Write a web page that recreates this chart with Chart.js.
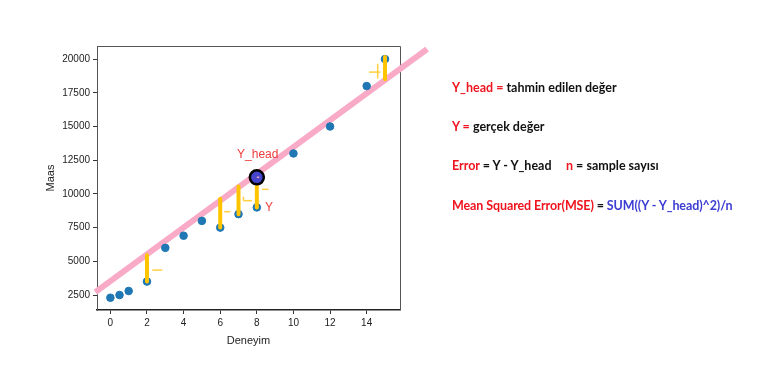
<!DOCTYPE html>
<html>
<head>
<meta charset="utf-8">
<script src="https://cdn.jsdelivr.net/npm/chart.js@4"></script>
<style>
body{margin:0;background:#fff;}
#wrap{position:relative;width:774px;height:366px;}
.note{position:absolute;font:bold 12.5px Lato, sans-serif;white-space:pre;line-height:15px;color:#111;}
.red{color:#f0141e;}
.blue{color:#3c3cd2;}
</style>
</head>
<body>
<div id="wrap">
<canvas id="mseChart" width="774" height="366"></canvas>
<div class="note" style="left:452px;top:80px"><span class="red">Y_head =</span> tahmin edilen değer</div>
<div class="note" style="left:452px;top:119px"><span class="red">Y =</span> gerçek değer</div>
<div class="note" style="left:452px;top:158px"><span class="red">Error</span> = Y - Y_head</div>
<div class="note" style="left:566px;top:158px"><span class="red">n</span> = sample sayısı</div>
<div class="note" style="left:452px;top:198px;letter-spacing:-0.1px"><span class="red">Mean Squared Error(MSE)</span> = <span class="blue">SUM((Y - Y_head)^2)/n</span></div>
</div>
<script>
// deneyim / maas scatter
var deneyim = [0, 0.5, 1, 2, 3, 4, 5, 6, 7, 8, 10, 12, 14, 15];
var maas = [2300, 2500, 2800, 3500, 6000, 6900, 8000, 7500, 8500, 9000, 13000, 15000, 18000, 20000];

// hand drawn regression line
var lineX = [-0.82, 17.3];
var lineY = [2720, 20740];

// marked prediction point
var yHeadX = [8];
var yHeadY = [11230];

// error bars (Y -> Y_head)
var errX = [2, 6, 7, 8, 15];
var errLow = [3500, 7500, 8500, 9000, 18500];
var errHigh = [5450, 9650, 10550, 11000, 20150];

// small "-" marks next to the bars
var dashStart = [2.29, 6.22, 7.27, 8.28, 14.13];
var dashEnd = [2.84, 6.55, 7.73, 8.64, 14.75];
var dashY = [4350, 8680, 9500, 10340, 19035];
var stubX = [7.27, 14.6];
var stubLow = [9500, 18550];
var stubHigh = [9800, 19650];

var xTicks = [0, 2, 4, 6, 8, 10, 12, 14];
var yTicks = [2500, 5000, 7500, 10000, 12500, 15000, 17500, 20000];

var yellow = '#ffc400';

var datasets = [];
datasets.push({
    data: lineX.map(function(x, i){ return {x: x, y: lineY[i]}; }),
    showLine: true, borderColor: 'rgb(248,170,198)', borderWidth: 6,
    pointRadius: 0, clip: false, order: 6
});
datasets.push({
    data: deneyim.map(function(x, i){ return {x: x, y: maas[i]}; }),
    backgroundColor: '#1f77b4', borderColor: '#1f77b4', pointRadius: 3.8, order: 4
});
errX.forEach(function(x, i){
    datasets.push({
        data: [{x: x, y: errLow[i]}, {x: x, y: errHigh[i]}],
        showLine: true, borderColor: yellow, borderWidth: 4, borderCapStyle: 'round',
        pointRadius: 0, clip: false, order: 3
    });
});
dashStart.forEach(function(x, i){
    datasets.push({
        data: [{x: x, y: dashY[i]}, {x: dashEnd[i], y: dashY[i]}],
        showLine: true, borderColor: '#ffcf40', borderWidth: 1.5,
        pointRadius: 0, order: 3
    });
});
stubX.forEach(function(x, i){
    datasets.push({
        data: [{x: x, y: stubLow[i]}, {x: x, y: stubHigh[i]}],
        showLine: true, borderColor: '#ffcf40', borderWidth: 1.5,
        pointRadius: 0, order: 3
    });
});
datasets.push({
    data: yHeadX.map(function(x, i){ return {x: x, y: yHeadY[i]}; }),
    backgroundColor: '#4444cc', borderColor: '#000', borderWidth: 2.5,
    pointRadius: 7, order: 2
});
datasets.push({
    data: yHeadX.map(function(x, i){ return {x: x, y: yHeadY[i]}; }),
    pointStyle: 'dash', borderColor: '#f4a0c0', borderWidth: 1.5,
    pointRadius: 2.5, order: 1
});

var framePlugin = {
    id: 'frame',
    beforeDatasetsDraw: function(chart){
        var a = chart.chartArea, ctx = chart.ctx;
        ctx.save();
        ctx.strokeStyle = '#555';
        ctx.lineWidth = 1;
        ctx.beginPath();
        ctx.moveTo(a.left, a.top + 0.5);
        ctx.lineTo(a.right + 0.5, a.top + 0.5);
        ctx.lineTo(a.right + 0.5, a.bottom);
        ctx.stroke();
        ctx.restore();
    }
};

var labelPlugin = {
    id: 'labels',
    afterDatasetsDraw: function(chart){
        var ctx = chart.ctx, xs = chart.scales.x, ys = chart.scales.y;
        ctx.save();
        ctx.fillStyle = '#ee3b3b';
        ctx.font = '12px "Liberation Sans"';
        ctx.textAlign = 'center';
        ctx.textBaseline = 'alphabetic';
        ctx.fillText('Y_head', xs.getPixelForValue(8.05), ys.getPixelForValue(12636));
        ctx.fillText('Y', xs.getPixelForValue(8.66), ys.getPixelForValue(8750));
        ctx.restore();
    }
};

function plain(v){ return String(v); }

var ctx = document.getElementById('mseChart').getContext('2d');
var mseChart = new Chart(ctx, {
    type: 'scatter',
    data: { datasets: datasets },
    options: {
        responsive: false,
        animation: false,
        events: [],
        layout: { padding: { left: 40, top: 46, right: 374, bottom: 16 } },
        plugins: { legend: { display: false }, tooltip: { enabled: false } },
        scales: {
            x: {
                type: 'linear', min: -0.73, max: 15.82,
                afterFit: function(s){ s.height = 40; },
                afterBuildTicks: function(s){ s.ticks = xTicks.map(function(v){ return {value: v}; }); },
                grid: { display: true, drawOnChartArea: false, drawTicks: true, tickLength: 4, color: '#333' },
                border: { display: true, color: '#222', width: 1.5 },
                ticks: { padding: 3, color: '#222', callback: plain, font: { family: 'Liberation Sans', size: 10 } },
                title: { display: true, text: 'Deneyim', color: '#222', padding: { top: 0, bottom: 2 },
                         font: { family: 'Liberation Sans', size: 11 } }
            },
            y: {
                type: 'linear', min: 1390, max: 20970,
                afterFit: function(s){ s.width = 57; },
                afterBuildTicks: function(s){ s.ticks = yTicks.map(function(v){ return {value: v}; }); },
                grid: { display: true, drawOnChartArea: false, drawTicks: true, tickLength: 4, color: '#333' },
                border: { display: true, color: '#555', width: 1 },
                ticks: { padding: 3, color: '#222', callback: plain, font: { family: 'Liberation Sans', size: 10 } },
                title: { display: true, text: 'Maas', color: '#222', padding: { top: 4, bottom: 0 },
                         font: { family: 'Liberation Sans', size: 11 } }
            }
        }
    },
    plugins: [framePlugin, labelPlugin]
});
</script>
</body>
</html>
